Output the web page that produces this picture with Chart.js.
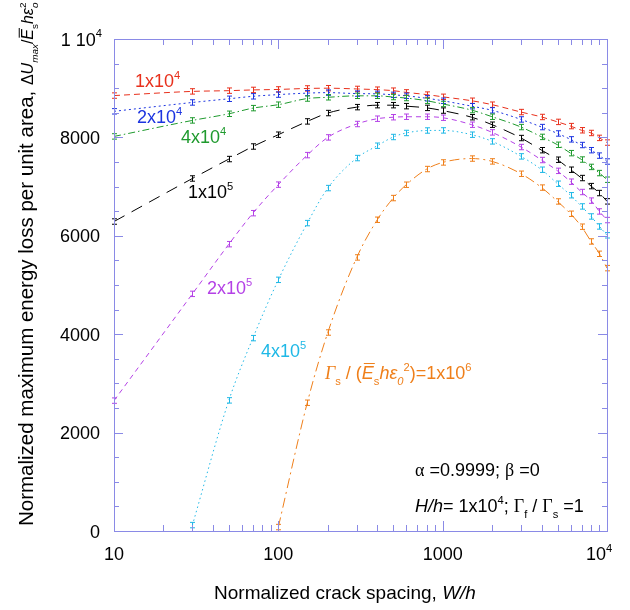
<!DOCTYPE html>
<html>
<head>
<meta charset="utf-8">
<script src="https://cdn.jsdelivr.net/npm/chart.js@4.4.1/dist/chart.umd.min.js"></script>
<style>
    html, body { margin: 0; padding: 0; background: #fff; }
    canvas { display: block; }
</style>
</head>
<body>
<canvas id="chart" width="630" height="610"></canvas>
<script>
// crack spacing W/h (x) and energy loss per series
const spacing = [10, 30, 50, 70, 100, 150, 200, 300, 400, 500, 600, 800, 1000, 1500, 2000, 3000, 4000, 5000, 6000, 7000, 8000, 9000, 10000];

const loss1e4 = [8850, 8935, 8950, 8965, 8975, 8995, 9000, 8985, 8970, 8950, 8915, 8870, 8825, 8745, 8665, 8515, 8415, 8315, 8230, 8145, 8090, 7990, 7895];
const loss2e4 = [8530, 8710, 8785, 8835, 8870, 8900, 8910, 8890, 8885, 8865, 8845, 8795, 8745, 8635, 8550, 8365, 8210, 8080, 7960, 7845, 7740, 7630, 7510];
const loss4e4 = [8020, 8345, 8480, 8595, 8665, 8790, 8815, 8845, 8845, 8820, 8800, 8745, 8680, 8555, 8420, 8210, 8010, 7850, 7680, 7550, 7400, 7275, 7140];
const loss1e5 = [6290, 7165, 7560, 7815, 8055, 8325, 8495, 8615, 8655, 8655, 8635, 8600, 8545, 8410, 8258, 7987, 7740, 7546, 7343, 7174, 7010, 6869, 6700];
const loss2e5 = [2650, 4820, 5830, 6460, 7040, 7640, 8000, 8272, 8380, 8410, 8420, 8420, 8400, 8258, 8102, 7804, 7540, 7320, 7100, 6890, 6715, 6495, 6320];
const loss4e5 = [null, 120, 2655, 3920, 5105, 6258, 6970, 7580, 7831, 8008, 8090, 8140, 8142, 8055, 7919, 7614, 7343, 7058, 6824, 6597, 6393, 6190, 6010];
const loss1e6 = [null, null, null, null, 80, 2607, 4034, 5560, 6326, 6767, 7038, 7357, 7491, 7570, 7512, 7261, 6980, 6698, 6448, 6185, 5885, 5634, 5343];

const errHalf = 55;

const yTicks = [0, 2000, 4000, 6000, 8000];
const xTicks = [10, 100, 1000];

const SANS = '"Liberation Sans", Arial, sans-serif';
const SERIF = '"Liberation Serif", "Times New Roman", serif';
const FRAME = '#8a8ae6';

const series = [
    { vals: loss1e4, color: '#e8301c', dash: [6, 4] },
    { vals: loss2e4, color: '#1c34e0', dash: [2, 3] },
    { vals: loss4e4, color: '#1f9a2e', dash: [7, 3, 1.5, 3] },
    { vals: loss1e5, color: '#000000', dash: [12, 8] },
    { vals: loss2e5, color: '#b441e6', dash: [5, 4] },
    { vals: loss4e5, color: '#1fb8e6', dash: [1.5, 3] },
    { vals: loss1e6, color: '#ef7f1a', dash: [10, 4, 2, 4] }
];

function toPoints(vals) {
    const pts = [];
    spacing.forEach((x, i) => {
        if (vals[i] !== null)
            pts.push({ x: x, y: vals[i] });
    });
    return pts;
}

// draws a run of text pieces (italic / sub / sup / overbar / stacked sup)
function rich(ctx, x, y, runs, size, color, align) {
    const sizeOf = r => (r.size || size) * ((r.sub || r.sup) ? 0.62 : 1);
    const fontOf = r => (r.it ? 'italic ' : '') + sizeOf(r) + 'px ' + (r.serif ? SERIF : SANS);
    let total = 0, prev = null;
    runs.forEach(r => {
        ctx.font = fontOf(r);
        r.w = ctx.measureText(r.t).width;
        total += r.back && prev ? Math.max(0, r.w - prev.w) : r.w;
        prev = r;
    });
    let cx = x;
    if (align === 'right') cx = x - total;
    if (align === 'center') cx = x - total / 2;
    ctx.fillStyle = color;
    ctx.strokeStyle = color;
    ctx.textAlign = 'left';
    ctx.textBaseline = 'alphabetic';
    prev = null;
    runs.forEach(r => {
        ctx.font = fontOf(r);
        const base = r.size || size;
        if (r.back && prev) cx -= prev.w;
        const dy = r.sub ? base * 0.32 : r.sup ? -base * 0.45 : 0;
        ctx.fillText(r.t, cx, y + dy);
        if (r.bar) {
            ctx.lineWidth = 1;
            ctx.setLineDash([]);
            ctx.beginPath();
            ctx.moveTo(cx + 2, y - base * 0.86);
            ctx.lineTo(cx + r.w + 1, y - base * 0.86);
            ctx.stroke();
        }
        cx += r.w;
        prev = r;
    });
}

const decorPlugin = {
    id: 'decor',
    afterDatasetsDraw(chart) {
        const ctx = chart.ctx;
        const xs = chart.scales.x, ys = chart.scales.y;
        const a = chart.chartArea;

        // error bars
        ctx.save();
        ctx.setLineDash([]);
        ctx.lineWidth = 1;
        series.forEach(s => {
            ctx.strokeStyle = s.color;
            toPoints(s.vals).forEach(p => {
                const px = Math.round(xs.getPixelForValue(p.x)) + 0.5;
                const lo = ys.getPixelForValue(Math.max(0, p.y - errHalf));
                const hi = ys.getPixelForValue(p.y + errHalf);
                ctx.beginPath();
                ctx.moveTo(px, lo); ctx.lineTo(px, hi);
                ctx.moveTo(px - 2.5, lo); ctx.lineTo(px + 2.5, lo);
                ctx.moveTo(px - 2.5, hi); ctx.lineTo(px + 2.5, hi);
                ctx.stroke();
            });
        });
        ctx.restore();

        // frame and inward ticks
        ctx.save();
        ctx.strokeStyle = FRAME;
        ctx.lineWidth = 1;
        ctx.setLineDash([]);
        ctx.strokeRect(Math.round(a.left) + 0.5, Math.round(a.top) + 0.5, Math.round(a.right - a.left), Math.round(a.bottom - a.top));
        ctx.beginPath();
        for (let v = 500; v < 10000; v += 500) {
            const py = Math.round(ys.getPixelForValue(v)) + 0.5;
            const len = v % 2000 === 0 ? 9 : 5;
            ctx.moveTo(a.left, py); ctx.lineTo(a.left + len, py);
            ctx.moveTo(a.right, py); ctx.lineTo(a.right - len, py);
        }
        for (let d = 10; d < 10000; d *= 10) {
            for (let m = 1; m < 10; m++) {
                const v = d * m;
                if (v <= 10) continue;
                const px = Math.round(xs.getPixelForValue(v)) + 0.5;
                const len = m === 1 ? 10 : 6;
                ctx.moveTo(px, a.bottom); ctx.lineTo(px, a.bottom - len);
                ctx.moveTo(px, a.top); ctx.lineTo(px, a.top + len);
            }
        }
        ctx.stroke();
        ctx.restore();

        // tick labels
        ctx.save();
        ctx.fillStyle = '#000';
        ctx.font = '18px ' + SANS;
        ctx.textAlign = 'right';
        yTicks.forEach(v => {
            ctx.fillText(String(v), 100, ys.getPixelForValue(v) + 6.5);
        });
        rich(ctx, 102, ys.getPixelForValue(10000) + 6.5, [{ t: '1 10' }, { t: '4', sup: true }], 18, '#000', 'right');
        ctx.font = '18px ' + SANS;
        ctx.textAlign = 'center';
        ctx.fillStyle = '#000';
        xTicks.forEach(v => {
            ctx.fillText(String(v), xs.getPixelForValue(v), 560);
        });
        rich(ctx, xs.getPixelForValue(10000) - 21, 560, [{ t: '10' }, { t: '4', sup: true }], 18, '#000', 'left');

        // axis titles
        rich(ctx, 345, 599, [{ t: 'Normalized crack spacing, ' }, { t: 'W/h', it: true }], 19, '#000', 'center');
        ctx.save();
        ctx.translate(33, 526);
        ctx.rotate(-Math.PI / 2);
        const m = 16;
        rich(ctx, 0, 0, [
            { t: 'Normalized maximum energy loss per unit area, ' },
            { t: 'Δ', size: m }, { t: 'U', it: true, size: m }, { t: 'max', it: true, sub: true, size: m },
            { t: '/', size: m }, { t: 'E', it: true, bar: true, size: m }, { t: 's', sub: true, size: m },
            { t: 'h\u03b5', it: true, size: m }, { t: 'o', it: true, sub: true, size: m },
            { t: '2', sup: true, back: true, size: m }
        ], 20.5, '#000', 'left');
        ctx.restore();

        // series labels
        const sci = (mant, e) => [{ t: mant + 'x10' }, { t: e, sup: true }];
        rich(ctx, 135, 87, sci('1', '4'), 18, series[0].color, 'left');
        rich(ctx, 137, 123, sci('2', '4'), 18, series[1].color, 'left');
        rich(ctx, 181, 143, sci('4', '4'), 18, series[2].color, 'left');
        rich(ctx, 188, 198, sci('1', '5'), 18, series[3].color, 'left');
        rich(ctx, 207, 294, sci('2', '5'), 18, series[4].color, 'left');
        rich(ctx, 261, 357, sci('4', '5'), 18, series[5].color, 'left');
        rich(ctx, 325, 379, [
            { t: 'Γ', it: true, serif: true }, { t: 's', sub: true }, { t: ' / (' },
            { t: 'E', it: true, bar: true }, { t: 's', sub: true }, { t: 'h\u03b5', it: true },
            { t: '0', it: true, sub: true }, { t: '2', sup: true }, { t: ')=1x10' }, { t: '6', sup: true }
        ], 18, series[6].color, 'left');

        // parameter notes
        rich(ctx, 415, 476, [
            { t: 'α', serif: true }, { t: ' =0.9999; ' }, { t: 'β', serif: true }, { t: ' =0' }
        ], 18, '#000', 'left');
        rich(ctx, 415, 512, [
            { t: 'H/h', it: true }, { t: '= 1x10' }, { t: '4', sup: true }, { t: '; ' },
            { t: 'Γ', serif: true }, { t: 'f', sub: true }, { t: ' / ' },
            { t: 'Γ', serif: true }, { t: 's', sub: true }, { t: ' =1' }
        ], 18, '#000', 'left');
        ctx.restore();
    }
};

new Chart(document.getElementById('chart'), {
    type: 'line',
    data: {
        datasets: series.map(s => ({
            data: toPoints(s.vals),
            borderColor: s.color,
            borderWidth: 1,
            borderDash: s.dash,
            pointRadius: 0,
            fill: false,
            cubicInterpolationMode: 'monotone'
        }))
    },
    options: {
        responsive: false,
        devicePixelRatio: 1,
        animation: false,
        layout: {
            padding: { left: 114, top: 39, right: 23, bottom: 79 }
        },
        plugins: {
            legend: { display: false },
            tooltip: { enabled: false }
        },
        scales: {
            x: { type: 'logarithmic', min: 10, max: 10000, display: false },
            y: { type: 'linear', min: 0, max: 10000, display: false }
        }
    },
    plugins: [decorPlugin]
});
</script>
</body>
</html>
